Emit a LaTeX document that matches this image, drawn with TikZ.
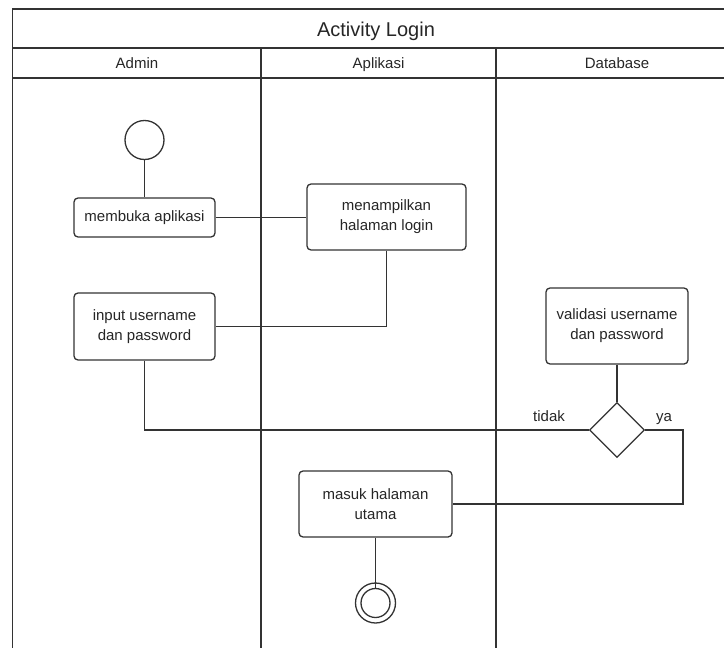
\documentclass[tikz,border=0pt]{standalone}
\usepackage{fontspec}
\setmainfont{Liberation Sans}
\usetikzlibrary{shapes.geometric}
\begin{document}
\begin{tikzpicture}[x=1pt,y=-1pt,
  ln/.style={draw=black!80, line width=1.3pt},
  txt/.style={font=\fontsize{15}{20}\selectfont, text=black!85},
  lbl/.style={txt, text height=11pt, text depth=3.5pt, inner sep=0pt},
  act/.style={ln, rounded corners=4pt, fill=white, align=center, inner sep=0pt, txt},
  initial/.style={ln, circle, minimum size=39pt, inner sep=0pt},
  decision/.style={ln, diamond, minimum width=55pt, minimum height=55pt, inner sep=0pt, fill=white},
  link/.style={ln}
]
\useasboundingbox (0,0) rectangle (724,648);
\clip (0,0) rectangle (724,648);

% swimlane frame
\draw[ln] (12.5,648) -- (12.5,9) -- (740,9) -- (740,648);
\draw[ln] (12.5,48) -- (740,48);
\draw[ln] (12.5,78) -- (740,78);
\draw[ln] (261,48) -- (261,648);
\draw[ln] (496,48) -- (496,648);

\node[font=\fontsize{20}{23}\selectfont, text=black!85, text height=14.5pt, text depth=4.5pt, inner sep=0pt] (title) at (376,31) {Activity Login};
\node[lbl] (laneA) at (137,65) {Admin};
\node[lbl] (laneB) at (378.5,65) {Aplikasi};
\node[lbl] (laneC) at (617,65) {Database};

% activities
\node[initial] (start) at (144.5,140) {};
\node[act, minimum width=141pt, minimum height=39pt] (buka) at (144.5,217.5) {membuka aplikasi};
\node[act, minimum width=159pt, minimum height=66pt] (tampil) at (386.5,217) {menampilkan\\halaman login};
\node[act, minimum width=141pt, minimum height=67pt] (input) at (144.5,326.5) {input username\\dan password};
\node[act, minimum width=142pt, minimum height=76pt] (valid) at (617,326) {validasi username\\dan password};
\node[decision] (cek) at (617,430) {};
\node[act, minimum width=153pt, minimum height=66pt] (masuk) at (375.5,504) {masuk halaman\\utama};
\node[ln, circle, minimum size=40pt, inner sep=0pt] (endo) at (375.5,603) {};
\node[ln, circle, minimum size=29pt, inner sep=0pt] (endi) at (375.5,603) {};

\node[lbl] (tidak) at (549,418) {tidak};
\node[lbl] (ya) at (664,418) {ya};

\coordinate (yaturn) at (683,430);

% flows
\draw[link] (start.south) -- (buka.north);
\draw[link] (buka.east) -- (buka.east -| tampil.west);
\draw[link] (tampil.south) |- (input.east);
\draw[link] (input.south) |- (cek.west);
\draw[link] (valid.south) -- (cek.north);
\draw[link] (cek.east) -- (yaturn) |- (masuk.east);
\draw[link] (masuk.south) -- (endi.north);
\end{tikzpicture}
\end{document}
